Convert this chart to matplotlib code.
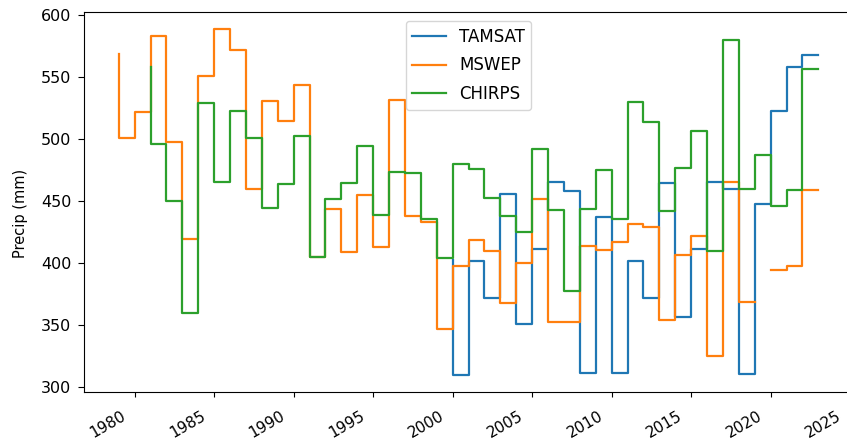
import numpy as np
import pandas as pd
import matplotlib
matplotlib.use("Agg")
import matplotlib.pyplot as plt
from matplotlib.transforms import ScaledTranslation

nan = np.nan

# Annual totals; each product covers its own span of years
tamsat_years = list(range(2000, 2024))
tamsat = [
    403, 310, 402, 372, 456, 351, 412, 466, 458, 312,
    437, 312, 402, 372, 465, 357, 412, 466, 460, 311,
    448, 523, 558, 568,
]

mswep_years = list(range(1979, 2024))
mswep = [
    569, 501, 522, 583, 498, 420, 551, 589, 572, 460,
    531, 515, 544, 405, 444, 409, 455, 413, 532, 438,
    433, 347, 398, 419, 410, 368, 400, 452, 353, 353,
    414, 411, 417, 432, 429, 354, 407, 422, 325, 466,
    369, nan, 395, 398, 459,
]

chirps_years = list(range(1981, 2024))
chirps = [
    558, 496, 450, 360, 529, 466, 523, 501,
    445, 464, 503, 405, 452, 465, 495, 439, 474, 473,
    436, 404, 480, 476, 453, 438, 425, 492, 443, 378,
    444, 475, 436, 530, 514, 442, 477, 507, 410, 580,
    460, 487, 446, 459, 557,
]

series = {
    "TAMSAT": pd.Series(tamsat, index=pd.to_datetime([f"{y}-01-01" for y in tamsat_years])),
    "MSWEP": pd.Series(mswep, index=pd.to_datetime([f"{y}-01-01" for y in mswep_years])),
    "CHIRPS": pd.Series(chirps, index=pd.to_datetime([f"{y}-01-01" for y in chirps_years])),
}

fig = plt.figure(figsize=(8.47, 4.46), dpi=100)
ax = fig.add_axes([0.0989, 0.1204, 0.9086, 0.8534])

for name, s in series.items():
    ax.plot(s.index, s.values, drawstyle="steps-pre", lw=1.6, label=name)

ax.tick_params(axis="y", labelsize=11.5, length=4.3, pad=4.5)
ax.tick_params(axis="x", labelsize=11)
ax.set_ylabel("Precip (mm)", fontsize=10.5)
ax.yaxis.set_label_coords(-0.073, 0.47)
ax.legend(loc="upper center", fontsize=12, labelspacing=0.65,
          borderaxespad=0.55)

for lbl in ax.get_xticklabels():
    lbl.set_rotation(30)
    lbl.set_ha("right")

fig.canvas.draw()
shift = ScaledTranslation(-0.06, -0.06, fig.dpi_scale_trans)
for lbl in ax.get_xticklabels():
    lbl.set_transform(lbl.get_transform() + shift)

fig.savefig("out.png", dpi=100)
plt.close(fig)
